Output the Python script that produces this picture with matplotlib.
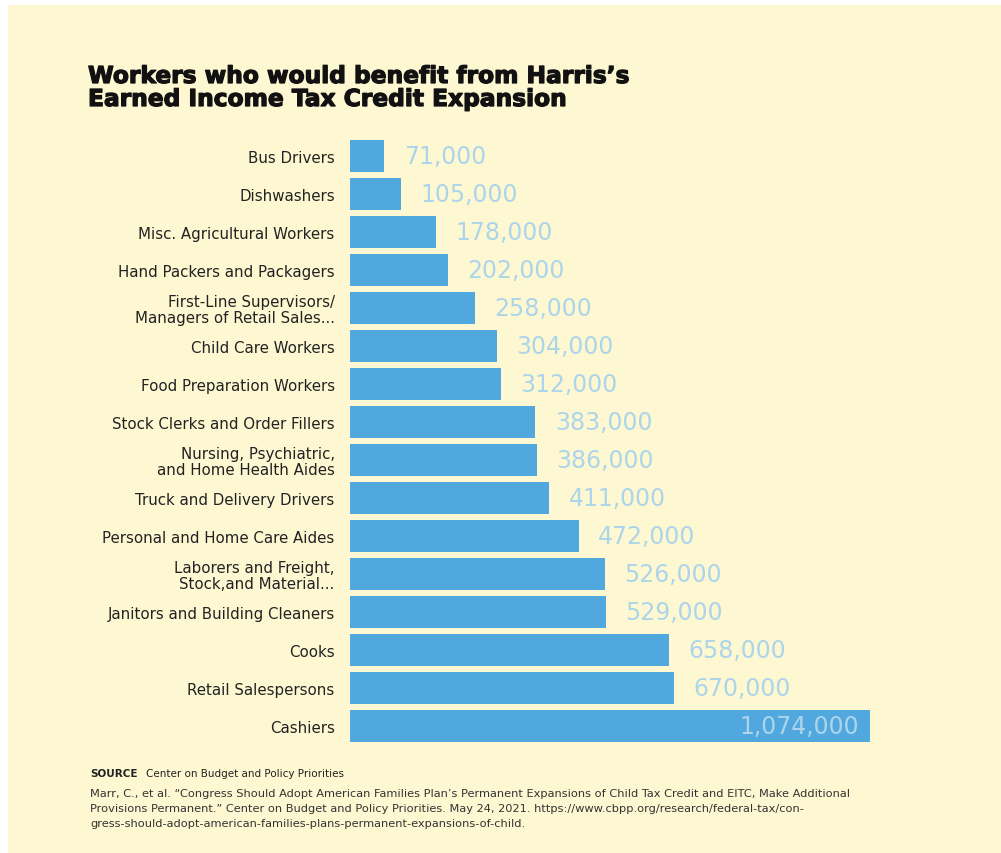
import matplotlib
matplotlib.use("Agg")
import matplotlib.pyplot as plt
import matplotlib.patheffects as pe
from matplotlib.ticker import NullLocator

categories = [
    "Bus Drivers",
    "Dishwashers",
    "Misc. Agricultural Workers",
    "Hand Packers and Packagers",
    "First-Line Supervisors/\nManagers of Retail Sales...",
    "Child Care Workers",
    "Food Preparation Workers",
    "Stock Clerks and Order Fillers",
    "Nursing, Psychiatric,\nand Home Health Aides",
    "Truck and Delivery Drivers",
    "Personal and Home Care Aides",
    "Laborers and Freight,\nStock,and Material...",
    "Janitors and Building Cleaners",
    "Cooks",
    "Retail Salespersons",
    "Cashiers",
]
values = [71000, 105000, 178000, 202000, 258000, 304000, 312000, 383000,
          386000, 411000, 472000, 526000, 529000, 658000, 670000, 1074000]

title = "Workers who would benefit from Harris\u2019s\nEarned Income Tax Credit Expansion"
source_head = "SOURCE"
source_org = "Center on Budget and Policy Priorities"
citation = ("Marr, C., et al. \u201cCongress Should Adopt American Families Plan\u2019s Permanent Expansions of Child Tax Credit and EITC, Make Additional\n"
            "Provisions Permanent.\u201d Center on Budget and Policy Priorities. May 24, 2021. https://www.cbpp.org/research/federal-tax/con-\n"
            "gress-should-adopt-american-families-plans-permanent-expansions-of-child.")

BG = "#FEF8D2"
BAR = "#50A8DE"
LBL = "#ACD5EA"

W, H = 1001, 854
fig = plt.figure(figsize=(W / 100, H / 100), dpi=100, facecolor="white")
fig.patches.append(plt.Rectangle((8 / W, 0), 1, 1 - 6 / H, transform=fig.transFigure,
                                 facecolor=BG, edgecolor="none", zorder=-10))

def fx(px):
    return px / W

def fy(py):
    return 1 - py / H

ax = fig.add_axes([fx(350), fy(746), fx(870) - fx(350), fy(138) - fy(746)])
ax.set_zorder(5)
ax.set_facecolor("none")
ypos = list(range(len(categories)))
ax.barh(ypos, values, height=0.84, color=BAR, edgecolor="none")
ax.set_xlim(0, max(values))
ax.set_ylim(len(categories) - 0.5, -0.5)
for s in ax.spines.values():
    s.set_visible(False)
ax.xaxis.set_major_locator(NullLocator())
ax.set_yticks(ypos)
ax.set_yticklabels(categories, fontsize=10.8, family="DejaVu Sans", color="#222222",
                   linespacing=1.05)
ax.tick_params(axis="y", length=0, pad=11)
for lab in ax.get_yticklabels():
    lab.set_horizontalalignment("right")
    lab.set_multialignment("right")

vmax = max(values)
for y, v in zip(ypos, values):
    txt = f"{v:,}"
    if v == vmax:
        ax.annotate(txt, (v, y), xytext=(-8, 0), textcoords="offset points",
                    ha="right", va="center", fontsize=17, color=LBL, family="DejaVu Sans")
    else:
        ax.annotate(txt, (v, y), xytext=(14, 0), textcoords="offset points",
                    ha="left", va="center", fontsize=17, color=LBL, family="DejaVu Sans")

fig.text(fx(88), fy(66), title, ha="left", va="top", fontsize=16.8, fontweight="bold",
         family="DejaVu Sans", color="#111111", linespacing=1.0,
         path_effects=[pe.withStroke(linewidth=0.9, foreground="#111111")])

fig.text(fx(90), fy(774), source_head, ha="left", va="center", fontsize=7.5,
         fontweight="bold", family="DejaVu Sans", color="#222222")
fig.text(fx(146), fy(774), source_org, ha="left", va="center", fontsize=7.5,
         family="DejaVu Sans", color="#222222")
fig.text(fx(90), fy(789), citation, ha="left", va="top", fontsize=8.2,
         family="DejaVu Sans", color="#333333", linespacing=1.65)

fig.savefig("out.png", dpi=100, facecolor="white")
